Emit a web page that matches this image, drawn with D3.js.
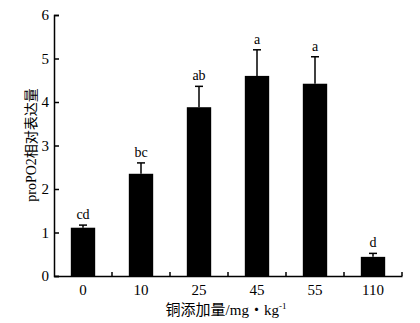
<!DOCTYPE html>
<html>
<head>
<meta charset="utf-8">
<script src="https://cdn.jsdelivr.net/npm/d3@7"></script>
<style>
  body { margin: 0; background: #fff; }
  text { font-family: "Liberation Serif", "Times New Roman", serif; fill: #000; }
  .cjk { font-family: "Liberation Serif", "Noto Sans CJK SC", serif; }
</style>
</head>
<body>
<div id="chart"></div>
<script>
const doses = ['0', '10', '25', '45', '55', '110'];
const means = [1.11, 2.35, 3.88, 4.60, 4.42, 0.44];
const errors = [0.06, 0.25, 0.48, 0.60, 0.62, 0.08];
const letters = ['cd', 'bc', 'ab', 'a', 'a', 'd'];
const yTicks = [0, 1, 2, 3, 4, 5, 6];

const width = 420;
const height = 323;
const margin = { top: 15, right: 18, bottom: 47, left: 54 };

const svg = d3.select('#chart')
  .append('svg')
  .attr('width', width)
  .attr('height', height);

const x = d3.scaleBand()
  .domain(doses)
  .range([margin.left, width - margin.right])
  .paddingInner(0.58)
  .paddingOuter(0.29);

const y = d3.scaleLinear()
  .domain([0, 6])
  .range([height - margin.bottom, margin.top]);

// bars
svg.append('g')
  .selectAll('rect')
  .data(doses)
  .join('rect')
  .attr('x', d => x(d))
  .attr('y', (d, i) => y(means[i]))
  .attr('width', x.bandwidth())
  .attr('height', (d, i) => y(0) - y(means[i]))
  .attr('fill', '#000');

// error bars (upper only)
const err = svg.append('g')
  .attr('stroke', '#000')
  .attr('stroke-width', 1.5);

doses.forEach((d, i) => {
  const cx = x(d) + x.bandwidth() / 2;
  err.append('line')
    .attr('x1', cx).attr('x2', cx)
    .attr('y1', y(means[i])).attr('y2', y(means[i] + errors[i]));
  err.append('line')
    .attr('x1', cx - 4).attr('x2', cx + 4)
    .attr('y1', y(means[i] + errors[i])).attr('y2', y(means[i] + errors[i]));
});

// significance letters
svg.append('g')
  .selectAll('text')
  .data(doses)
  .join('text')
  .attr('x', d => x(d) + x.bandwidth() / 2)
  .attr('y', (d, i) => y(means[i] + errors[i]) - 6)
  .attr('text-anchor', 'middle')
  .style('font-size', '14px')
  .text((d, i) => letters[i]);

// y axis
const yAxis = svg.append('g')
  .attr('transform', `translate(${margin.left},0)`)
  .call(d3.axisLeft(y).tickValues(yTicks).tickSize(-5).tickPadding(5).tickFormat(d3.format('d')));
yAxis.selectAll('text').style('font-size', '15px');

// x axis
const xAxis = svg.append('g')
  .attr('transform', `translate(0,${y(0)})`)
  .call(d3.axisBottom(x).tickSize(0).tickPadding(8));
xAxis.selectAll('text').style('font-size', '15px');

// small inward ticks between bar groups
const bounds = doses.map(d => x(d) - x.step() * x.paddingInner() / 2).slice(1)
  .concat([width - margin.right]);
svg.append('g')
  .selectAll('line')
  .data(bounds)
  .join('line')
  .attr('x1', d => d).attr('x2', d => d)
  .attr('y1', y(0)).attr('y2', y(0) - 4)
  .attr('stroke', '#000')
  .attr('stroke-width', 1.5);

svg.selectAll('.domain').attr('stroke-width', 1.5);
svg.selectAll('.tick line').attr('stroke-width', 1.5);

// axis titles
const xTitle = svg.append('text')
  .attr('class', 'cjk')
  .attr('x', 226)
  .attr('y', 315)
  .attr('text-anchor', 'middle')
  .style('font-size', '15px');
xTitle.append('tspan').text('铜添加量/mg・kg');
xTitle.append('tspan').attr('dy', -6).style('font-size', '9px').text('-1');

svg.append('text')
  .attr('class', 'cjk')
  .attr('transform', 'translate(36,145) rotate(-90)')
  .attr('text-anchor', 'middle')
  .style('font-size', '14px')
  .text('proPO2相对表达量');
</script>
</body>
</html>
